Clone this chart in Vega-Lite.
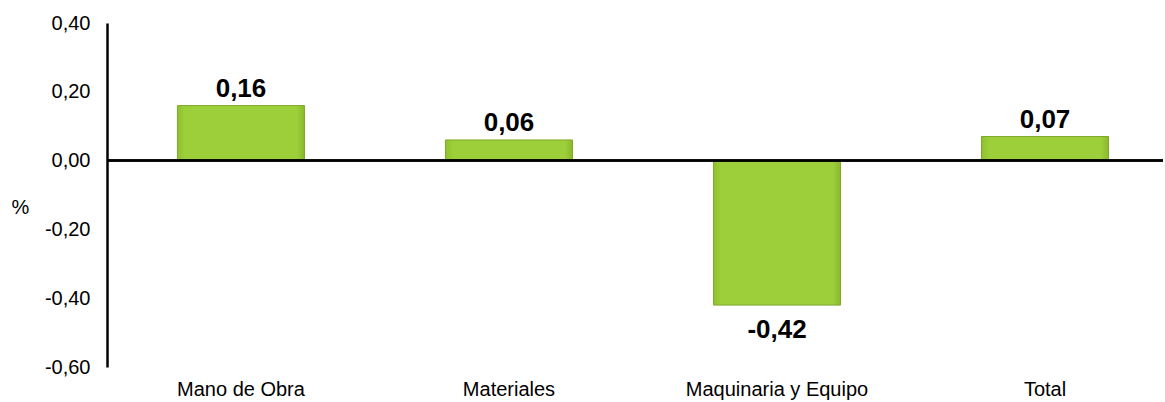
{
  "$schema": "https://vega.github.io/schema/vega-lite/v6.json",
  "width": 1056,
  "height": 344,
  "autosize": {"type": "none"},
  "padding": {"left": 107, "top": 23, "right": 2, "bottom": 35},
  "config": {
    "view": {"stroke": null},
    "font": "Liberation Sans",
    "locale": {
      "number": {"decimal": ",", "thousands": ".", "grouping": [3], "currency": ["", " €"], "minus": "-"}
    }
  },
  "data": {
    "values": [
      {"categoria": "Mano de Obra", "valor": 0.16},
      {"categoria": "Materiales", "valor": 0.06},
      {"categoria": "Maquinaria y Equipo", "valor": -0.42},
      {"categoria": "Total", "valor": 0.07}
    ]
  },
  "encoding": {
    "x": {
      "field": "categoria",
      "type": "nominal",
      "sort": null,
      "scale": {"paddingInner": 0.526, "paddingOuter": 0.233, "align": 0.564},
      "axis": {
        "orient": "bottom",
        "domain": false,
        "ticks": false,
        "labelAngle": 0,
        "labelFontSize": 20,
        "labelPadding": 12,
        "labelLimit": 0,
        "labelColor": "#000000",
        "title": null
      }
    },
    "y": {
      "field": "valor",
      "type": "quantitative",
      "scale": {"domain": [-0.6, 0.4], "nice": false, "zero": false},
      "axis": {
        "values": [-0.6, -0.4, -0.2, 0, 0.2, 0.4],
        "format": ".2f",
        "domain": true,
        "domainColor": "#000000",
        "domainWidth": 2.5,
        "ticks": false,
        "grid": false,
        "labelFontSize": 20,
        "labelPadding": 17,
        "labelColor": "#000000",
        "title": "%",
        "titleAngle": 0,
        "titleX": -87,
        "titleY": 184,
        "titleFontSize": 20,
        "titleFontWeight": "normal",
        "titleAlign": "center",
        "titleBaseline": "middle",
        "titleColor": "#000000"
      }
    }
  },
  "layer": [
    {
      "mark": {
        "type": "bar",
        "fill": {
          "gradient": "linear",
          "x1": 0, "y1": 0, "x2": 1, "y2": 0,
          "stops": [
            {"offset": 0, "color": "#8FC02E"},
            {"offset": 0.06, "color": "#9DCF3A"},
            {"offset": 0.94, "color": "#9DCF3A"},
            {"offset": 1, "color": "#8AB82C"}
          ]
        },
        "stroke": "#7FA82A",
        "strokeWidth": 1
      }
    },
    {
      "mark": {"type": "rule", "color": "#000000", "strokeWidth": 2},
      "encoding": {"x": null, "y": {"datum": 0}}
    },
    {
      "transform": [{"filter": "datum.valor >= 0"}],
      "mark": {"type": "text", "fontSize": 26, "fontWeight": "bold", "baseline": "alphabetic", "dy": -9, "color": "#000000"},
      "encoding": {"text": {"field": "valor", "type": "quantitative", "format": ".2f"}}
    },
    {
      "transform": [{"filter": "datum.valor < 0"}],
      "mark": {"type": "text", "fontSize": 26, "fontWeight": "bold", "baseline": "top", "dy": 12, "color": "#000000"},
      "encoding": {"text": {"field": "valor", "type": "quantitative", "format": ".2f"}}
    }
  ]
}
